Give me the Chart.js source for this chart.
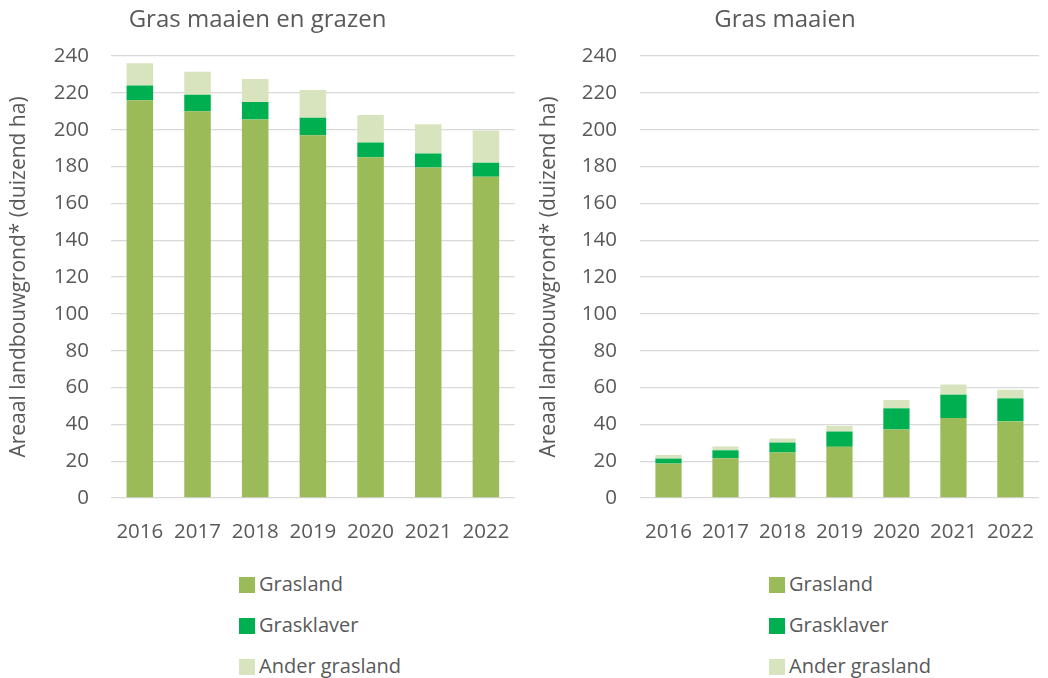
<!DOCTYPE html>
<html><head><meta charset="utf-8">
<script src="https://cdn.jsdelivr.net/npm/chart.js@4.4.1/dist/chart.umd.min.js"></script>
<style>
html,body{margin:0;padding:0;background:#fff;width:1048px;height:678px;overflow:hidden;font-family:"Open Sans",sans-serif;}
.wrap{position:absolute;top:0;width:524px;height:550px;}
.legend{position:absolute;top:570px;color:#595959;font-size:20px;}
.legend div{height:41px;display:flex;align-items:flex-start;}
.legend span.box{display:inline-block;width:16px;height:16px;margin-right:4px;margin-top:7px;}
</style></head><body>
<div class="wrap" style="left:0"><canvas id="c1" width="524" height="550"></canvas></div>
<div class="wrap" style="left:524px"><canvas id="c2" width="524" height="550"></canvas></div>
<div class="legend" id="lg1" style="left:239px"></div>
<div class="legend" id="lg2" style="left:769px"></div>
<script>
const years = ["2016","2017","2018","2019","2020","2021","2022"];
const seriesNames = ["Grasland","Grasklaver","Ander grasland"];
const colors = ["#9BBB59","#00B050","#D7E4BD"];
// Gras maaien en grazen
const leftGrasland = [216,210,205.5,197,185,179.5,174.5];
const leftGrasklaver = [8,9,9.5,9.5,8,7.5,7.5];
const leftAnder = [12,12.5,12.5,15,15,16,17.5];
// Gras maaien
const rightGrasland = [18.7,21.6,24.7,27.8,37.2,43.4,41.6];
const rightGrasklaver = [2.7,4.3,5.4,8.3,11.5,12.7,12.5];
const rightAnder = [2,2.1,2.2,3.1,4.5,5.5,4.7];
const yTitle = "Areaal landbouwgrond* (duizend ha)";
const titles = ["Gras maaien en grazen","Gras maaien"];

const txt = "#595959";
function make(id, title, data, yWidth, tickPad, padRight, titlePad){
  const sets = data.map((d,i)=>({label:seriesNames[i],data:d,backgroundColor:colors[i],
    categoryPercentage:1,barPercentage:0.46,borderWidth:0}));
  new Chart(document.getElementById(id),{
    type:'bar',
    data:{labels:years,datasets:sets},
    options:{
      responsive:false,animation:false,
      layout:{padding:{left:0,right:padRight,top:0,bottom:0}},
      plugins:{legend:{display:false},tooltip:{enabled:false},
        title:{display:true,text:title,color:txt,font:{family:"Open Sans",size:24,weight:'normal'},
          padding:{top:6,bottom:21.2}}},
      scales:{
        x:{stacked:true,grid:{display:false},border:{display:false},
          ticks:{color:txt,font:{family:"Open Sans",size:20.5},padding:14},
          afterFit:s=>{s.height=52;}},
        y:{stacked:true,min:0,max:240,
          ticks:{stepSize:20,color:txt,font:{family:"Open Sans",size:20.5},padding:tickPad},
          grid:{color:"#d9d9d9",lineWidth:1.3,drawTicks:false},border:{display:false},
          title:{display:true,text:yTitle,color:txt,font:{family:"Open Sans",size:21},padding:{top:titlePad,bottom:0}},
          afterFit:s=>{s.width=yWidth;}}
      }
    }
  });
}
make('c1',titles[0],[leftGrasland,leftGrasklaver,leftAnder],111,22,9,6);
make('c2',titles[1],[rightGrasland,rightGrasklaver,rightAnder],116,23,2,12);
for(const id of ['lg1','lg2']){
  const el=document.getElementById(id);
  seriesNames.forEach((n,i)=>{
    const d=document.createElement('div');
    const b=document.createElement('span');b.className='box';b.style.background=colors[i];
    d.appendChild(b);d.appendChild(document.createTextNode(n));el.appendChild(d);
  });
}
</script>
</body></html>
